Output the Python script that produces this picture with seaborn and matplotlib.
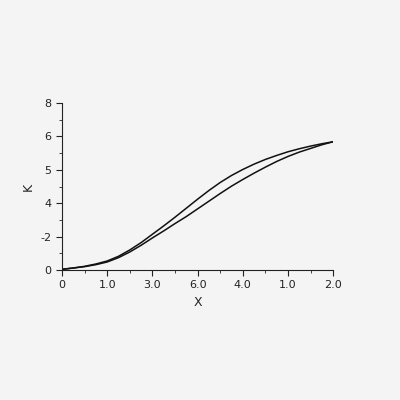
import matplotlib
matplotlib.use("Agg")
import matplotlib.pyplot as plt
import seaborn as sns
import pandas as pd
from matplotlib.ticker import MultipleLocator

x_pos = [0, 0.25, 0.5, 0.75, 1, 1.25, 1.5, 1.75, 2, 2.25, 2.5, 2.75, 3, 3.25,
         3.5, 3.75, 4, 4.25, 4.5, 4.75, 5, 5.25, 5.5, 5.75, 6]
upper = [0.02, 0.06, 0.11, 0.18, 0.27, 0.41, 0.6, 0.82, 1.07, 1.32, 1.58, 1.85,
         2.12, 2.38, 2.62, 2.83, 3.01, 3.17, 3.31, 3.43, 3.54, 3.63, 3.71, 3.78, 3.84]
lower = [0.02, 0.06, 0.1, 0.16, 0.24, 0.37, 0.54, 0.74, 0.96, 1.17, 1.39, 1.6,
         1.83, 2.06, 2.29, 2.51, 2.71, 2.9, 3.08, 3.25, 3.4, 3.53, 3.64, 3.75, 3.84]
x_labels = ["0", "1.0", "3.0", "6.0", "4.0", "1.0", "2.0"]
y_labels = ["0", "-2", "4", "5", "6", "8"]

sns.set_theme(style="ticks")
bg = "#f4f4f4"
fig = plt.figure(figsize=(4, 4), dpi=100, facecolor=bg)
ax = fig.add_axes([0.155, 0.325, 0.678, 0.4175], facecolor=bg)

df = pd.DataFrame({"x": x_pos * 2, "y": upper + lower,
                   "curve": ["upper"] * len(x_pos) + ["lower"] * len(x_pos)})
sns.lineplot(data=df, x="x", y="y", units="curve", estimator=None,
             color="#111111", linewidth=1.1, ax=ax)

ax.set_xlim(0, 6)
ax.set_ylim(0, 5)
ax.set_xticks(range(7))
ax.set_xticklabels(x_labels)
ax.set_yticks(range(6))
ax.set_yticklabels(y_labels)
ax.xaxis.set_minor_locator(MultipleLocator(0.5))
ax.yaxis.set_minor_locator(MultipleLocator(0.5))
ax.tick_params(which="major", length=4, width=0.8, labelsize=8, colors="#222222")
ax.tick_params(which="minor", length=2, width=0.6)
for side in ["top", "right"]:
    ax.spines[side].set_visible(False)
for side in ["left", "bottom"]:
    ax.spines[side].set_linewidth(0.8)
    ax.spines[side].set_color("#222222")
ax.set_xlabel("X", fontsize=9)
ax.set_ylabel("K", fontsize=9)

fig.savefig("out.png", dpi=100, facecolor=bg)
